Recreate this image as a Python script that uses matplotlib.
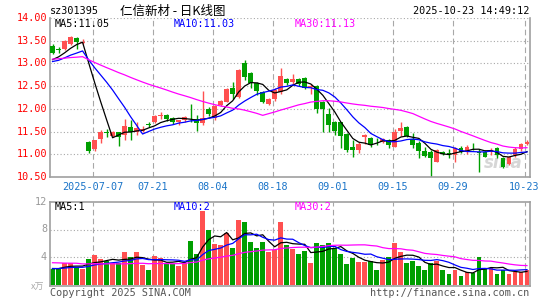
import numpy as np
import pandas as pd
import matplotlib
matplotlib.use("Agg")
import matplotlib.pyplot as plt

W, H = 545, 300

# daily candles, 2025-06-26 .. 2025-10-23 (80 trading days)
opens = [13.39, 13.31, 13.31, 13.42, 13.57, 13.46, 11.28, 11.12, 11.33, 11.48,
         11.41, 11.48, 11.42, 11.61, 11.50, 11.52, 11.66, 11.72, 11.84, 11.86,
         11.79, 11.72, 11.76, 11.80, 11.77, 11.68, 11.99, 11.79, 12.09, 12.16,
         12.47, 12.27, 13.00, 12.80, 12.58, 12.38, 12.11, 12.21, 12.38, 12.65,
         12.60, 12.66, 12.67, 12.49, 12.50, 12.16, 11.89, 11.72, 11.70, 11.45,
         11.15, 11.09, 11.37, 11.35, 11.30, 11.28, 11.31, 11.17, 11.51, 11.61,
         11.33, 11.24, 11.07, 11.06, 10.84, 11.06, 11.03, 10.98, 11.13, 11.06,
         11.19, 11.06, 11.04, 11.04, 11.13, 10.91, 10.79, 10.98, 11.11, 11.23]
highs = [13.42, 13.37, 13.52, 13.61, 13.58, 13.53, 11.30, 11.32, 11.53, 11.55,
         11.52, 11.50, 11.77, 11.75, 11.70, 11.62, 11.70, 11.86, 11.92, 11.88,
         11.82, 11.76, 11.85, 12.11, 11.86, 12.39, 12.04, 12.08, 12.20, 12.46,
         12.60, 12.88, 13.08, 12.82, 12.60, 12.40, 12.24, 12.45, 12.89, 12.69,
         12.77, 12.68, 12.70, 12.55, 12.52, 12.18, 12.01, 11.74, 11.72, 11.47,
         11.31, 11.27, 11.45, 11.38, 11.35, 11.36, 11.33, 11.55, 11.70, 11.63,
         11.46, 11.30, 11.17, 11.10, 11.11, 11.08, 11.12, 11.15, 11.18, 11.20,
         11.25, 11.12, 11.10, 11.13, 11.15, 10.93, 10.97, 11.15, 11.25, 11.31]
lows = [13.20, 13.24, 13.30, 13.40, 13.32, 13.43, 11.02, 11.08, 11.25, 11.38,
        11.38, 11.18, 11.31, 11.31, 11.42, 11.48, 11.60, 11.68, 11.78, 11.74,
        11.66, 11.64, 11.72, 11.72, 11.51, 11.64, 11.84, 11.75, 12.06, 12.14,
        12.21, 12.25, 12.64, 12.46, 12.31, 12.13, 12.08, 12.18, 12.32, 12.53,
        12.53, 12.50, 12.44, 12.33, 11.90, 11.50, 11.50, 11.42, 11.13, 11.06,
        10.95, 11.03, 11.22, 11.15, 11.20, 11.25, 11.13, 11.15, 11.40, 11.38,
        11.13, 10.91, 10.94, 10.51, 10.84, 10.98, 10.92, 10.84, 11.03, 11.00,
        11.10, 10.62, 10.93, 10.99, 10.92, 10.70, 10.76, 10.95, 11.08, 11.20]
closes = [13.22, 13.30, 13.50, 13.58, 13.47, 13.48, 11.08, 11.31, 11.48, 11.46,
          11.49, 11.38, 11.62, 11.50, 11.58, 11.56, 11.64, 11.85, 11.86, 11.78,
          11.72, 11.75, 11.82, 11.79, 11.68, 11.79, 11.89, 12.06, 12.18, 12.43,
          12.33, 12.86, 12.71, 12.56, 12.40, 12.16, 12.21, 12.42, 12.72, 12.58,
          12.66, 12.55, 12.45, 12.50, 12.00, 12.00, 11.64, 11.52, 11.40, 11.09,
          11.09, 11.23, 11.42, 11.20, 11.29, 11.34, 11.20, 11.50, 11.57, 11.40,
          11.20, 11.08, 10.96, 10.91, 11.09, 11.00, 11.01, 11.13, 11.06, 11.17,
          11.18, 11.02, 10.95, 11.09, 10.98, 10.73, 10.95, 11.12, 11.22, 11.27]
volumes = [2.3, 2.3, 3.2, 3.2, 2.55, 2.3, 3.75, 4.3, 3.7, 3.5,
           3.2, 3.2, 4.8, 4.0, 4.8, 2.9, 2.1, 4.2, 3.9, 3.2,
           3.0, 2.7, 3.2, 6.4, 4.4, 10.7, 8.0, 5.9, 5.8, 7.5,
           5.4, 9.4, 9.1, 6.2, 5.35, 6.2, 4.7, 5.1, 9.1, 5.7,
           5.2, 4.4, 4.95, 3.1, 6.1, 5.7, 6.1, 5.4, 4.4, 3.0,
           3.85, 3.3, 3.3, 3.4, 2.2, 3.6, 4.0, 6.0, 4.8, 3.1,
           3.5, 2.7, 2.2, 3.2, 3.4, 2.1, 1.6, 2.2, 1.3, 1.8,
           1.7, 4.0, 2.5, 2.5, 1.6, 2.1, 1.6, 1.9, 1.9, 2.2]

# sessions before the window, only used to seed the moving averages
hist_close = [13.05, 13.10, 13.18, 13.22, 13.15, 13.08, 13.12, 13.20, 13.16, 13.10,
              13.05, 13.12, 13.18, 13.14, 13.08, 13.06, 13.12, 13.10, 13.09, 13.11,
              13.04, 12.96, 12.98, 13.02, 13.00, 13.00, 13.06, 13.08, 13.06]
hist_vol = [3.0, 4.2, 3.5, 2.8, 5.1, 3.9, 3.3, 4.6, 3.2, 2.9,
            3.8, 4.4, 3.1, 3.6, 2.7, 4.0, 3.4, 3.9, 3.3, 3.8,
            2.2, 2.5, 2.4, 2.3, 2.3, 2.4, 2.2, 2.5, 2.4]

tick_idx = [7, 17, 27, 37, 47, 57, 67, 79]
tick_labels = ["2025-07-07", "07-21", "08-04", "08-18", "09-01", "09-15", "09-29", "10-23"]
price_ticks = [14.0, 13.5, 13.0, 12.5, 12.0, 11.5, 11.0, 10.5]
vol_ticks = [12, 8, 4]

RED = "#ff5050"
GREEN = "#009f00"
GRID = "#a8a8a8"
FRAME = "#a0a0a0"
MONO = "DejaVu Sans Mono"


def fx(x):
    return x / W


def fy(y):
    return 1 - y / H


def moving(hist, vals, n):
    s = pd.Series(hist + vals)
    return s.rolling(n).mean().values[len(hist):]


n = len(closes)
x = np.arange(n)
o = np.array(opens)
c = np.array(closes)
up = c >= o
cols = np.where(up, RED, GREEN)

fig = plt.figure(figsize=(W / 100, H / 100), dpi=100)
fig.patch.set_facecolor("white")

L, R = 50, 529.5
ax = fig.add_axes([fx(L), fy(177), (R - L) / W, (177 - 18) / H])
axv = fig.add_axes([fx(L), fy(285.5), (R - L) / W, (285.5 - 202) / H])

for a in (ax, axv):
    a.set_xlim(-0.42, n - 0.58)
    a.set_xticks([])
    a.set_yticks([])
    for s in a.spines.values():
        s.set_color(FRAME)
        s.set_linewidth(1.2)
    for i in tick_idx:
        a.axvline(i - 0.33, color=GRID, lw=0.8, ls=(0, (5, 3)), zorder=0)

ax.spines["top"].set_visible(False)
ax.set_ylim(10.5, 14.0)
for p in price_ticks[:-1]:
    ax.axhline(p, color=GRID, lw=0.8, ls=(0, (1, 2)), zorder=0)

# candles
ax.vlines(x, lows, highs, colors=cols, lw=1, zorder=2)
body_lo = np.minimum(o, c)
body_h = np.maximum(np.abs(c - o), 0.012)
ax.bar(x, body_h, bottom=body_lo, width=0.8, color=cols, lw=0, zorder=3)

ax.plot(x, moving(hist_close, closes, 5), color="black", lw=0.9, zorder=4)
ax.plot(x, moving(hist_close, closes, 10), color="#0000ff", lw=0.9, zorder=4)
ax.plot(x, moving(hist_close, closes, 30), color="#ff00ff", lw=0.9, zorder=4)

ax.text(0.985, 0.09, "sina", transform=ax.transAxes, ha="right", va="center",
        fontsize=12, fontstyle="italic", fontweight="bold", color="#d6d6d6", zorder=1)

# volume
axv.set_ylim(-0.1, 12)
for v in vol_ticks[1:]:
    axv.axhline(v, color=GRID, lw=0.8, ls=(0, (1, 2)), zorder=0)
axv.bar(x, volumes, width=0.8, color=cols, lw=0, zorder=2)
axv.plot(x, moving(hist_vol, volumes, 5), color="black", lw=0.9, zorder=4)
axv.plot(x, moving(hist_vol, volumes, 10), color="#0000ff", lw=0.9, zorder=4)
axv.plot(x, moving(hist_vol, volumes, 30), color="#ff00ff", lw=0.9, zorder=4)

# axis labels
for p in price_ticks:
    y = 18 + (14.0 - p) / 3.5 * 159
    fig.text(fx(47), fy(y), "%.2f" % p, ha="right", va="center",
             fontsize=7.3, family=MONO, color="#ff0000")
for v in vol_ticks:
    y = 284.6 - v / 12 * 82.7
    fig.text(fx(47), fy(y), str(v), ha="right", va="center",
             fontsize=7.3, family=MONO, color="#999999")
fig.text(fx(44), fy(287), "x万", ha="right", va="center", fontsize=6.5,
         family=["Noto Sans CJK SC", "DejaVu Sans"], color="#aaaaaa")

for i, lab in zip(tick_idx, tick_labels):
    px = 50 + 6 * i + 0.5
    fig.text(fx(px), fy(186.5), lab, ha="center", va="center",
             fontsize=7.3, family=MONO, color="#1a74c8")

# titles and legends
fig.text(fx(50), fy(11.5), "sz301395", ha="left", va="center", fontsize=7.3,
         family=MONO, color="black")
fig.text(fx(120), fy(11), "仁信新材 - 日K线图", ha="left", va="center", fontsize=9,
         family=["Noto Sans CJK SC", "DejaVu Sans"], color="black")
fig.text(fx(529), fy(11.5), "2025-10-23 14:49:12", ha="right", va="center",
         fontsize=7.3, family=MONO, color="black")

fig.text(fx(55), fy(24), "MA5:11.05", ha="left", va="center", fontsize=7.3,
         family=MONO, color="black")
fig.text(fx(174), fy(24), "MA10:11.03", ha="left", va="center", fontsize=7.3,
         family=MONO, color="#0000ff")
fig.text(fx(295), fy(24), "MA30:11.13", ha="left", va="center", fontsize=7.3,
         family=MONO, color="#ff00ff")

fig.text(fx(55), fy(206.5), "MA5:1", ha="left", va="center", fontsize=7.3,
         family=MONO, color="black")
fig.text(fx(174), fy(206.5), "MA10:2", ha="left", va="center", fontsize=7.3,
         family=MONO, color="#0000ff")
fig.text(fx(295), fy(206.5), "MA30:2", ha="left", va="center", fontsize=7.3,
         family=MONO, color="#ff00ff")

fig.text(fx(50), fy(293), "Copyright 2025 SINA.COM", ha="left", va="center",
         fontsize=7.3, family=MONO, color="#555555")
fig.text(fx(529), fy(293), "http://finance.sina.com.cn", ha="right", va="center",
         fontsize=7.3, family=MONO, color="#555555")

fig.savefig("out.png", dpi=100)
